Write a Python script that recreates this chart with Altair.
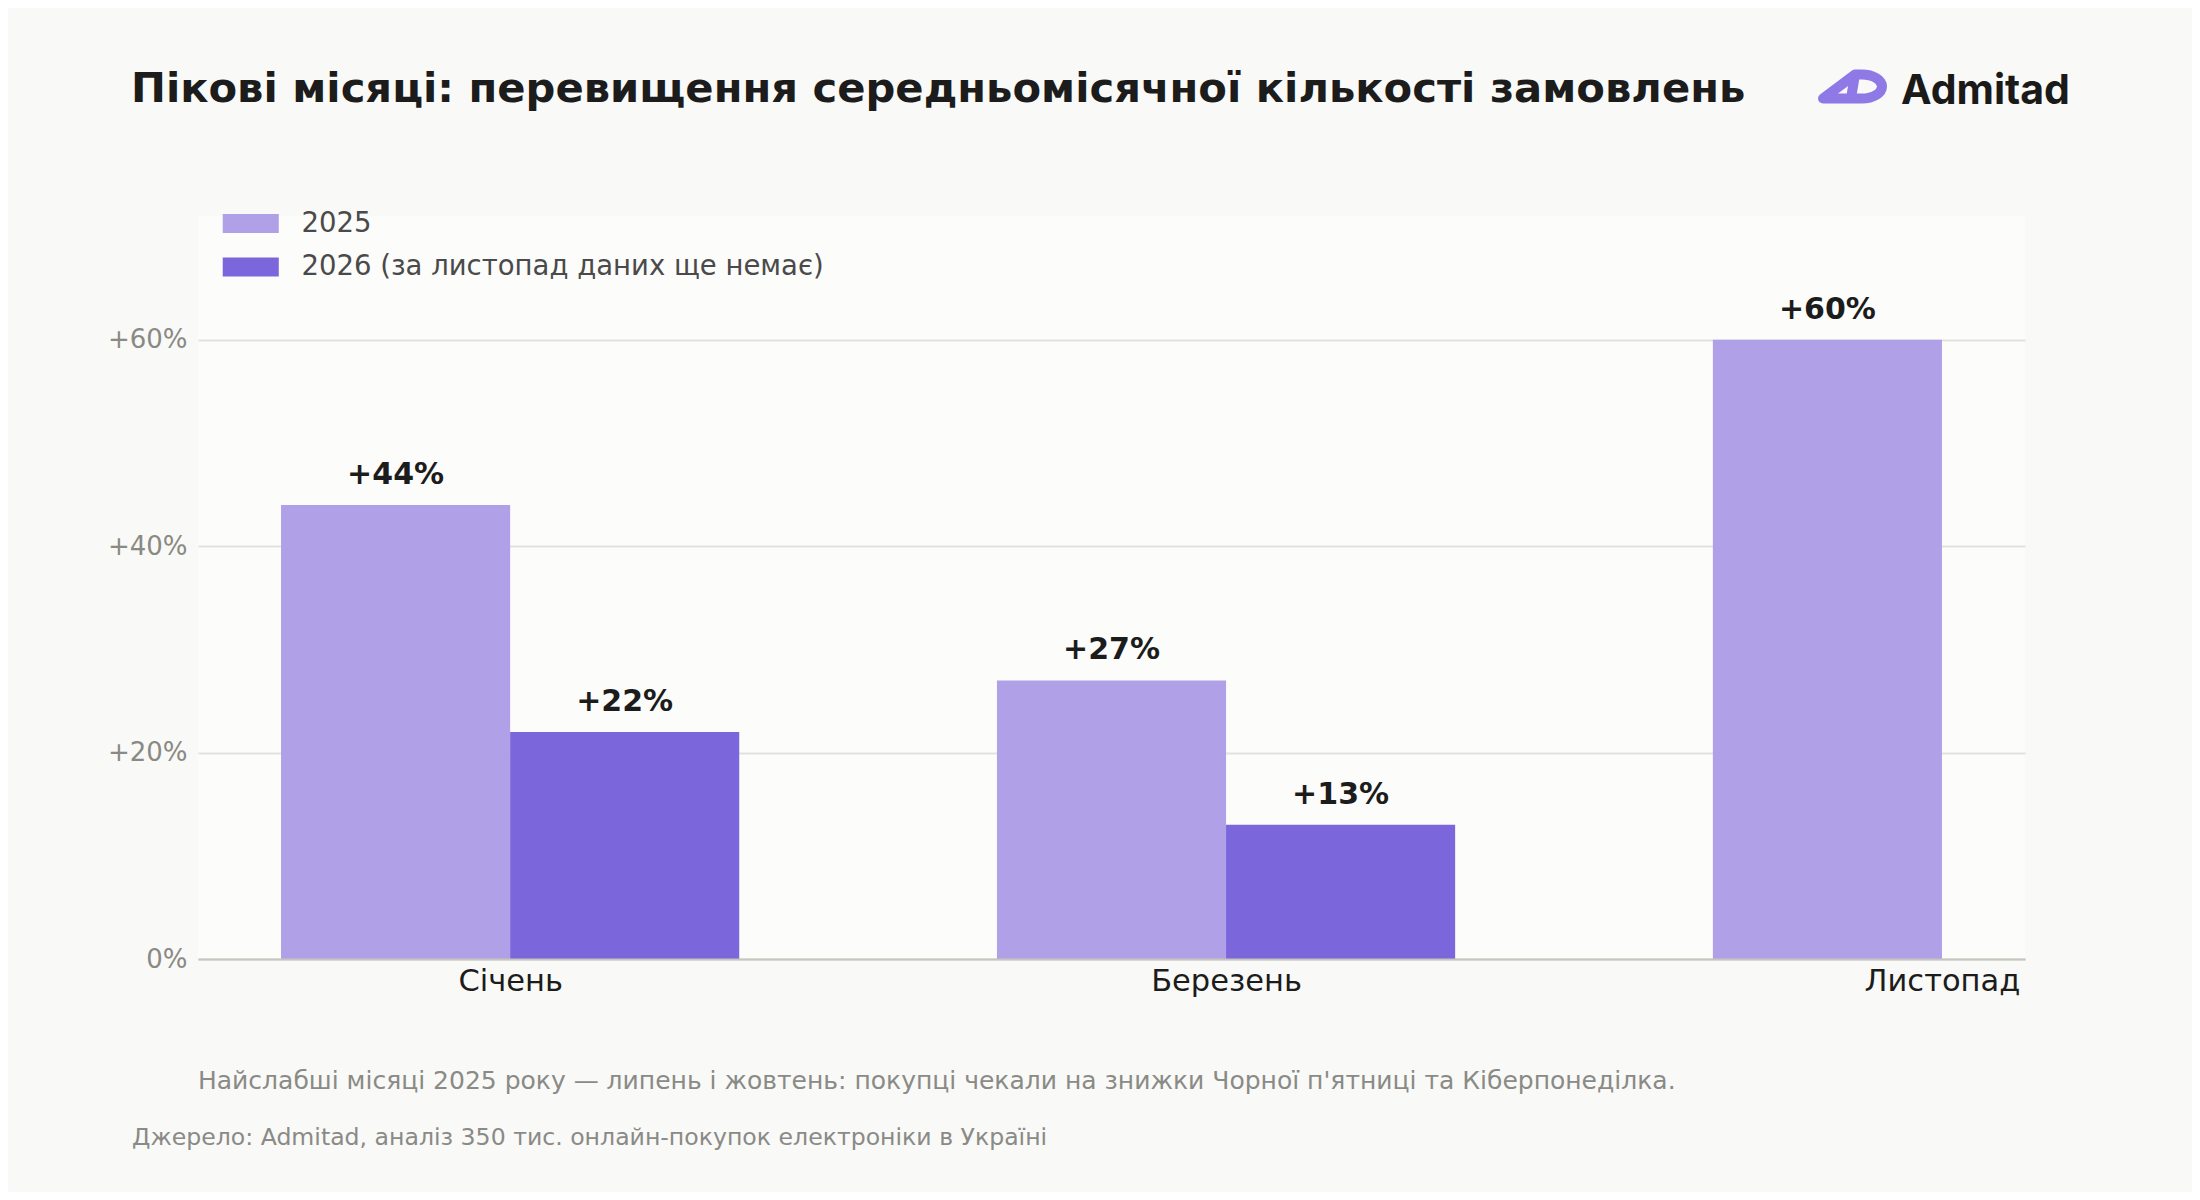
import altair as alt
import pandas as pd

# ---------------- data ----------------
months = ["Січень", "Березень", "Листопад"]
series = ["2025", "2026 (за листопад даних ще немає)"]
values_2025 = [44, 27, 60]
values_2026 = [22, 13, None]
y_ticks = [0, 20, 40, 60]

title_text = "Пікові місяці: перевищення середньомісячної кількості замовлень"
note_text = ("Найслабші місяці 2025 року — липень і жовтень: покупці чекали на знижки "
             "Чорної п'ятниці та Кіберпонеділка.")
source_text = "Джерело: Admitad, аналіз 350 тис. онлайн-покупок електроніки в Україні"
logo_text = "Admitad"

# ---------------- table ----------------
BAR_W = 0.32
rows = []
for i, m in enumerate(months):
    for s_idx, (s, vals) in enumerate(zip(series, [values_2025, values_2026])):
        v = vals[i]
        if v is None:
            continue
        start = i - BAR_W if s_idx == 0 else i
        rows.append(dict(month=m, idx=i, series=s, value=v,
                         x0=start, x1=start + BAR_W, xc=start + BAR_W / 2,
                         label=f"+{v}%"))
df = pd.DataFrame(rows)

FONT = "DejaVu Sans"
x_scale = alt.Scale(domain=[-0.436, 2.116], nice=False, zero=False)
y_scale = alt.Scale(domain=[0, 72], nice=False)
color_scale = alt.Scale(domain=series, range=["#b0a0e8", "#7b66db"])
label_expr = "[" + ",".join(f"'{m}'" for m in months) + "][datum.value]"

bars = alt.Chart(df).mark_rect().encode(
    x=alt.X("x0:Q", scale=x_scale,
            axis=alt.Axis(values=[0, 1, 2], labelExpr=label_expr, title=None,
                          grid=False, ticks=False, domainColor="#c6c6be",
                          domainWidth=2, labelFontSize=30.5, labelColor="#1c1c1c",
                          labelPadding=7, labelFont=FONT, zindex=1)),
    x2="x1:Q",
    y=alt.Y("value:Q", scale=y_scale,
            axis=alt.Axis(values=y_ticks,
                          labelExpr="datum.value > 0 ? '+' + datum.value + '%' : datum.value + '%'",
                          title=None, ticks=False, domain=False,
                          gridColor="#e2e2dc", gridWidth=2, labelFontSize=26,
                          labelColor="#8a8a84", labelPadding=11, labelFont=FONT)),
    y2=alt.datum(0),
    color=alt.Color("series:N", scale=color_scale,
                    legend=alt.Legend(title=None, orient="none", legendX=39, legendY=-6.25,
                                      direction="vertical",
                                      symbolType="M -2.95 -1 L 2.95 -1 L 2.95 1 L -2.95 1 Z",
                                      symbolSize=361, symbolStrokeWidth=0, symbolOpacity=1,
                                      labelFontSize=27.5, labelColor="#4a4a4a",
                                      labelOffset=37, rowPadding=14.5, padding=0,
                                      labelFont=FONT, labelLimit=1000)),
)

value_labels = alt.Chart(df).mark_text(
    font=FONT, fontWeight="bold", fontSize=30, color="#1c1c1c",
    dy=-21, baseline="alphabetic", align="center"
).encode(x=alt.X("xc:Q", scale=x_scale), y=alt.Y("value:Q", scale=y_scale), text="label:N")


def text_layer(txt, x, y, size, color, weight="normal", font=FONT):
    return alt.Chart(pd.DataFrame({"t": [txt]})).mark_text(
        font=font, fontSize=size, color=color, fontWeight=weight,
        align="left", baseline="alphabetic"
    ).encode(x=alt.value(x), y=alt.value(y), text="t:N")


title = text_layer(title_text, -67, -114, 41.7, "#1c1c1c", "bold")
note = text_layer(note_text, 0, 873, 25, "#8a8a86")
source = text_layer(source_text, -66, 929, 23.6, "#8a8a86")
logo_word = text_layer(logo_text, 1703, -112, 41, "#1a1a1a", "bold", "Inter")

logo_path = ("M -1.0 0.4 L 0.067 -0.4 L -0.067 0.4 Z "
             "M 0.067 -0.4 L 0.3 -0.4 A 0.667 0.4 0 0 1 0.3 0.4 L -0.067 0.4")
logo_icon = alt.Chart(pd.DataFrame({"t": [logo_text]})).mark_point(
    shape=logo_path, size=3600, filled=False, stroke="#8e79e6", strokeWidth=10,
    strokeJoin="round", strokeCap="round", opacity=1
).encode(x=alt.value(1655), y=alt.value(-129.5))

chart = alt.layer(bars, value_labels, title, note, source, logo_word, logo_icon).properties(
    width=1827, height=743,
    autosize=alt.AutoSizeParams(type="none"),
    padding={"left": 190, "top": 208, "right": 167, "bottom": 233},
    background="#f9f9f7",
).configure(
    font=FONT,
    view=alt.ViewConfig(fill="#fcfcfa", stroke="transparent", strokeWidth=0),
)

chart.save("out.html", embed_options={"renderer": "svg", "actions": False})
